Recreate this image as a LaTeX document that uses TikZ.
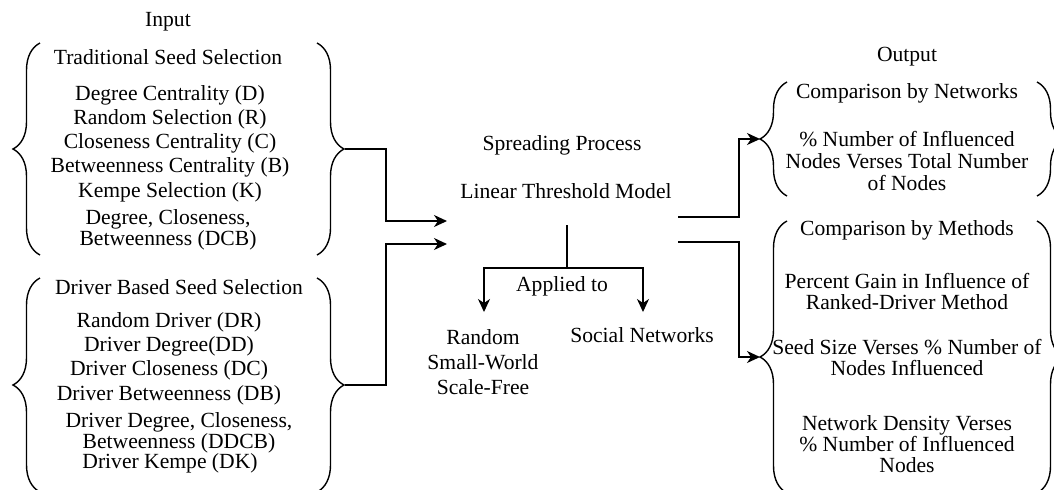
\documentclass[tikz,border=0pt]{standalone}
\usepackage{fontspec}
\setmainfont{Liberation Serif}
\usetikzlibrary{arrows.meta,decorations.pathreplacing}

\tikzset{
  lbl/.style={font=\fontsize{10.8}{12.1}\selectfont, align=center, inner sep=0pt},
  tight/.style={font=\fontsize{10.8}{10.5}\selectfont},
  arr/.style={-{Stealth[length=6.5pt,width=6pt,inset=2pt]}},
  curly/.style={decorate, decoration={brace, amplitude=13.5pt}},
}

\begin{document}
\begin{tikzpicture}[x=0.5pt,y=-0.5pt,line width=0.7pt]
  \useasboundingbox (0,0) rectangle (1054,489);

  % text blocks
  \begin{scope}[every node/.style={lbl}]
    \node (in)     at (168,22)  {Input};
    \node (trad)   at (168,57)  {Traditional Seed Selection};
    \node (tlist)  at (170,143.5) {Degree Centrality (D)\\Random Selection (R)\\Closeness Centrality (C)\\Betweenness Centrality (B)\\Kempe Selection (K)};
    \node[tight] (dcb) at (168,229.5) {Degree, Closeness,\\Betweenness (DCB)};

    \node (drv)    at (179,287) {Driver Based Seed Selection};
    \node (dlist)  at (169,358.5) {Random Driver (DR)\\Driver Degree(DD)\\Driver Closeness (DC)\\Driver Betweenness (DB)};
    \node[tight] (ddcb) at (179,432.5) {Driver Degree, Closeness,\\Betweenness (DDCB)};
    \node (dk)     at (170,463) {Driver Kempe (DK)};

    \node (spread) at (562,145) {Spreading Process};
    \node (ltm)    at (566,191) {Linear Threshold Model};
    \node (appl)   at (562,286) {Applied to};
    \node[font=\fontsize{10.8}{12.5}\selectfont] (synth) at (483,362) {Random\\Small-World\\Scale-Free};
    \node (social) at (642,335) {Social Networks};

    \node (out)    at (907,57)  {Output};
    \node (bynet)  at (907,93)  {Comparison by Networks};
    \node[font=\fontsize{10.8}{11}\selectfont] (netbody) at (907,161) {\% Number of Influenced\\Nodes Verses Total Number\\of Nodes};
    \node (bymeth) at (907,230) {Comparison by Methods};
    \node[tight] (gain) at (907,291.5) {Percent Gain in Influence of\\Ranked-Driver Method};
    \node[tight] (seed) at (907,357.5) {Seed Size Verses \% Number of\\Nodes Influenced};
    \node[tight] (dens) at (907,444) {Network Density Verses\\\% Number of Influenced\\Nodes};
  \end{scope}

  % brackets round the groups
  \draw[curly] (40,255) -- (40,43);
  \draw[curly] (317,43) -- (317,255);
  \draw[curly] (40,492) -- (40,278);
  \draw[curly] (317,278) -- (317,492);
  \draw[curly] (787,196) -- (787,82);
  \draw[curly] (1037,82) -- (1037,196);
  \draw[curly] (787,493) -- (787,221);
  \draw[curly] (1037,221) -- (1037,493);

  % connector ends
  \coordinate (rb1) at (345,149);
  \coordinate (rb2) at (345,385);
  \coordinate (in1) at (447,221);
  \coordinate (in2) at (447,244);
  \coordinate (ltmS) at (567,225);
  \coordinate (split) at (567,268);
  \coordinate (a1) at (484,312);
  \coordinate (a2) at (643,312);
  \coordinate (o1) at (678,217);
  \coordinate (o2) at (678,242);
  \coordinate (lb3) at (760,139);
  \coordinate (lb4) at (760,357);

  \draw[arr] (rb1) -- ++(41,0) |- (in1);
  \draw[arr] (rb2) -- ++(41,0) |- (in2);
  \draw (ltmS) -- (split);
  \draw[arr] (split) -| (a1);
  \draw[arr] (split) -| (a2);
  \draw[arr] (o1) -- ++(61,0) |- (lb3);
  \draw[arr] (o2) -- ++(61,0) |- (lb4);

\end{tikzpicture}
\end{document}
